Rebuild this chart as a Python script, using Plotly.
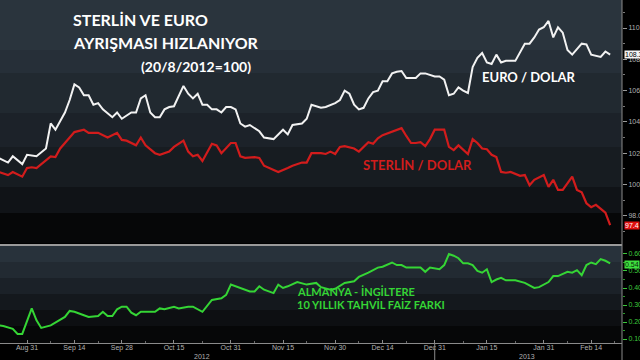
import plotly.graph_objects as go
import pandas as pd

# ---------------- data ----------------
start_day = "2012-08-23"   # trading-day index 0
n_days = 132

eur_idx = [0, 2, 3, 5, 6, 8, 10, 11, 12, 13, 14, 15, 16, 17, 18, 19, 20, 21, 22, 24, 25, 26, 28, 29, 30, 31, 32, 33, 34,
           35, 36, 37, 39, 40, 41, 42, 43, 44, 45, 46, 47, 48, 49, 50, 51, 52, 53, 55, 56, 58, 60, 61, 62, 64, 65, 66,
           67, 68, 69, 71, 72, 73, 74, 75, 76, 77, 78, 79, 80, 81, 82, 83, 84, 85, 86, 88, 89, 90, 92, 93, 94, 95, 96,
           97, 98, 99, 100, 101, 102, 103, 104, 105, 106, 107, 109, 111, 112, 113, 114, 115, 116, 117, 118, 119, 120,
           121, 123, 124, 125, 127, 128, 129]
eur_vals = [101.7, 101.4, 101.8, 101.3, 101.9, 101.8, 102.3, 103.9, 103.5, 104.1, 104.6, 105.4, 106.4, 106.2, 105.7,
            105.7, 105.1, 105.2, 104.8, 104.3, 104.6, 104.2, 104.6, 104.6, 105.5, 105.7, 104.6, 104.3, 104.3,
            104.8, 104.95, 105.0, 106.3, 105.8, 105.5, 105.8, 105.1, 105.1, 104.8, 104.8, 104.6, 104.95, 104.95, 104.8,
            103.9, 103.7, 103.8, 103.4, 103.0, 102.9, 103.5, 103.2, 103.8, 103.9, 104.2, 105.1,
            105.0, 104.9, 104.95, 105.2, 105.4, 106.0, 105.8, 105.1, 104.8, 104.9, 105.5, 105.9, 106.0, 106.6, 106.6,
            107.1, 107.2, 107.25, 106.8, 106.8, 107.1, 107.1, 106.9, 106.9, 106.7, 105.7, 105.8,
            106.2, 106.0, 105.85, 107.5, 108.1, 108.4, 107.8, 107.7, 108.3, 107.8, 107.9, 107.9, 109.0, 109.0, 109.4,
            109.9, 110.05, 110.45, 109.4, 110.05, 109.7, 108.6,
            108.3, 109.0, 108.95, 108.3, 108.15, 108.5, 108.3]

gbp_idx = [0, 2, 3, 5, 6, 7, 8, 9, 11, 12, 13, 14, 16, 18, 19, 21, 23, 25, 26, 27, 29, 30, 31, 33, 34, 36, 37, 39, 40,
           41, 42, 43, 45, 46, 47, 49, 50, 51, 52, 54, 55, 56, 57, 59, 61, 62, 64, 65, 66, 68, 69, 70, 71, 72, 73, 75,
           76, 77, 78, 79, 80, 81, 83, 84, 85, 86, 87, 88, 89, 90, 91, 92, 94, 95, 96, 97, 98, 99, 100, 101, 102, 103,
           104, 105, 106, 107, 108, 110, 111, 112, 113, 115, 116, 117, 118, 119, 121, 122, 123, 124, 125, 126, 128, 129]
gbp_vals = [100.8, 100.6, 100.8, 100.5, 101.05, 101.1, 101.05, 101.3, 101.8, 101.75, 102.3, 102.65, 103.35, 103.5,
            103.3, 103.3, 103.0, 103.3, 102.85, 102.8, 102.5, 103.0, 102.5, 102.0, 101.9, 102.1, 102.4, 102.8, 102.1,
            101.8, 101.9, 101.5, 102.6, 102.5, 102.0, 102.65, 102.65, 101.8, 101.7, 101.75, 101.7, 101.2, 101.05, 100.8,
            101.05, 101.2, 101.4, 101.4, 102.0, 102.0, 101.95, 102.1, 101.95, 102.4, 102.45, 102.3,
            102.1, 102.4, 102.7, 102.6, 102.95, 103.15, 103.4, 103.5, 103.6, 103.1, 102.65, 102.65, 102.7, 102.45, 102.9,
            103.5, 103.5, 102.4, 102.2, 102.5, 102.2, 101.95, 102.9, 102.65, 102.3, 102.25,
            101.9, 101.75, 100.8, 100.75, 100.8, 100.55, 100.6, 99.95, 100.3, 100.6, 99.85, 100.3, 99.65, 99.65, 100.5,
            99.65, 99.5, 98.8, 98.55, 98.7, 98.2, 97.4]

spr_idx = [0, 1, 3, 4, 5, 7, 8, 9, 11, 13, 14, 15, 16, 18, 19, 21, 22, 23, 24, 25, 26, 27, 28, 29, 30, 31, 33, 34, 35,
           37, 38, 40, 41, 43, 45, 47, 48, 49, 51, 53, 54, 55, 56, 58, 59, 60, 61, 63, 65, 67, 68, 70, 71, 73, 75, 76,
           78, 80, 81, 83, 84, 85, 86, 87, 89, 90, 91, 93, 94, 95, 96, 97, 98, 99, 100, 101, 102, 103, 104, 105, 106,
           107, 109, 111, 113, 114, 115, 116, 117, 118, 120, 121, 122, 123, 124, 125, 126, 127, 128, 129]
spr_vals = [0.18, 0.176, 0.16, 0.13, 0.13, 0.28, 0.21, 0.165, 0.18, 0.21, 0.23, 0.265, 0.26, 0.24, 0.23, 0.235, 0.26,
            0.235, 0.235, 0.275, 0.29, 0.29, 0.255, 0.24, 0.26, 0.26, 0.26, 0.28, 0.275,
            0.29, 0.28, 0.29, 0.29, 0.26, 0.33, 0.34, 0.36, 0.42, 0.40, 0.38, 0.38, 0.41, 0.39, 0.37, 0.42, 0.40, 0.41,
            0.435, 0.42, 0.43, 0.405, 0.39, 0.395, 0.43, 0.44, 0.465,
            0.49, 0.52, 0.525, 0.55, 0.535, 0.535, 0.52, 0.52, 0.52, 0.495, 0.52, 0.51, 0.535, 0.60, 0.59, 0.575, 0.545,
            0.545, 0.535, 0.50, 0.49, 0.51, 0.435, 0.45, 0.46,
            0.445, 0.445, 0.43, 0.40, 0.405, 0.42, 0.435, 0.47, 0.47, 0.495, 0.49, 0.505, 0.475, 0.535, 0.55, 0.54,
            0.57, 0.56, 0.545]

x_tick_dates = ["2012-08-31", "2012-09-14", "2012-09-28", "2012-10-15", "2012-10-31", "2012-11-15",
                "2012-11-30", "2012-12-14", "2012-12-31", "2013-01-15", "2013-01-31", "2013-02-14"]
x_tick_labels = ["Aug 31", "Sep 14", "Sep 28", "Oct 15", "Oct 31", "Nov 15",
                 "Nov 30", "Dec 14", "Dec 31", "Jan 15", "Jan 31", "Feb 14"]
x_minor_dates = ["2012-09-07", "2012-09-21", "2012-10-05", "2012-10-23", "2012-11-07", "2012-11-22",
                 "2012-12-07", "2012-12-21", "2013-01-08", "2013-01-23", "2013-02-07", "2013-02-21"]
top_ticks = [98, 100, 102, 104, 106, 108, 110]
top_labels = ["98.00", "100.00", "102.00", "104.00", "106.00", "108.00", "110.00"]
top_minor = [97, 99, 101, 103, 105, 107, 109, 111]
bot_ticks = [0.1, 0.2, 0.3, 0.4, 0.5, 0.6]
bot_labels = ["0.100", "0.200", "0.300", "0.400", "0.500", "0.600"]
bot_minor = [0.15, 0.25, 0.35, 0.45, 0.55]

last_eur = "108.3"
last_gbp = "97.4"
last_spr = "0.54"

# ---------------- figure ----------------
bd = pd.bdate_range(start_day, periods=n_days)
def dates(idx):
    return [bd[i] for i in idx]

WHITE = "#f2f2f2"
RED = "#d21c1c"
GREEN = "#35d535"
SMALL = "Liberation Sans"

fig = go.Figure()
fig.add_trace(go.Scatter(x=dates(eur_idx), y=eur_vals, mode="lines", line=dict(color=WHITE, width=2),
                         xaxis="x", yaxis="y", hoverinfo="skip"))
fig.add_trace(go.Scatter(x=dates(gbp_idx), y=gbp_vals, mode="lines", line=dict(color=RED, width=2.2),
                         xaxis="x", yaxis="y", hoverinfo="skip"))
fig.add_trace(go.Scatter(x=dates(spr_idx), y=spr_vals, mode="lines", line=dict(color=GREEN, width=2),
                         xaxis="x2", yaxis="y2", hoverinfo="skip"))

H = 343.0  # plot-area height in px
top_dom = [(H - 243) / H, 1.0]
bot_dom = [0.0, (H - 246) / H]
xrange = ["2012-08-23 07:18", "2013-02-22 12:00"]
rb = [dict(bounds=["sat", "mon"])]

shapes = []
top_bands = [(0, 50, "#2a343d"), (50, 73, "#262f38"), (73, 113, "#212930"), (113, 147, "#1c2229"),
             (147, 187, "#171c21"), (187, 213, "#101317"), (213, 243, "#060708")]
for y0, y1, c in top_bands:
    shapes.append(dict(type="rect", xref="x domain", yref="y domain", x0=0, x1=1,
                       y0=1 - y1 / 243, y1=1 - y0 / 243, fillcolor=c, line_width=0, layer="below"))
bot_bands = [(246, 262, "#28323b"), (262, 278, "#222a32"), (278, 294, "#1b2128"), (294, 310, "#14181d"),
             (310, 326, "#0d0f12"), (326, 343, "#060708")]
for y0, y1, c in bot_bands:
    shapes.append(dict(type="rect", xref="x2 domain", yref="y2 domain", x0=0, x1=1,
                       y0=1 - (y1 - 246) / 97, y1=1 - (y0 - 246) / 97, fillcolor=c, line_width=0, layer="below"))
shapes.append(dict(type="line", xref="paper", yref="paper", x0=0, x1=1,
                   y0=(H - 245) / H, y1=(H - 245) / H, line=dict(color="#9a9a9a", width=2)))
shapes.append(dict(type="line", xref="paper", yref="paper", x0=1, x1=1, y0=-0.05, y1=1,
                   line=dict(color="#8a8a8a", width=1)))
shapes.append(dict(type="line", xref="x2", yref="paper", x0="2012-12-31", x1="2012-12-31",
                   y0=-0.06, y1=0, line=dict(color="#8a8a8a", width=1)))

ann = []
def txt(s, x, y, size, color, anchor="left"):
    ann.append(dict(text=s, xref="paper", yref="paper", x=x / 622.0, y=(H - y) / H, xanchor=anchor,
                    yanchor="middle", showarrow=False, font=dict(family="Lato", size=size, color=color)))
txt("<b>STERLİN VE EURO</b>", 71, 20, 16, "#ffffff")
txt("<b>AYRIŞMASI HIZLANIYOR</b>", 71, 42, 16, "#ffffff")
txt("<b>(20/8/2012=100)</b>", 139, 66, 14, "#ffffff")
txt("<b>EURO / DOLAR</b>", 480, 77, 13, "#ffffff")
txt("<b>STERLİN / DOLAR</b>", 361, 165, 13, RED)
txt("<b>ALMANYA - İNGİLTERE</b>", 295, 291, 11, GREEN)
txt("<b>10 YILLIK TAHVİL FAİZ FARKI</b>", 295, 304, 11, GREEN)
for s, xp in (("2012", 202), ("2013", 527)):
    ann.append(dict(text=s, xref="paper", yref="paper", x=xp / 622.0, y=(H - 356) / H, xanchor="center",
                    yanchor="middle", showarrow=False, font=dict(family=SMALL, size=7, color="#b0b0b0")))
def tag(s, yv, yref, bg, fg):
    ann.append(dict(text=s, xref="paper", yref=yref, x=1.0, y=yv, xanchor="left", xshift=2, yanchor="middle",
                    showarrow=False, bgcolor=bg, borderpad=0,
                    font=dict(family=SMALL, size=7, color=fg)))
tag(last_eur, float(last_eur), "y", "#f4f4f4", "#000000")
tag(last_gbp, float(last_gbp), "y", "#e01010", "#ffffff")
tag(last_spr, float(last_spr), "y2", "#3ee03e", "#0a2a0a")

axfont = dict(family=SMALL, size=7, color="#b0b0b0")
fig.update_layout(
    template="none",
    width=640, height=360,
    margin=dict(l=0, r=18, t=0, b=17, autoexpand=False),
    paper_bgcolor="#000000", plot_bgcolor="#000000",
    showlegend=False,
    xaxis=dict(domain=[0, 1], anchor="y", range=xrange, rangebreaks=rb, type="date",
               showticklabels=False, showgrid=False, zeroline=False, showline=False, ticks=""),
    xaxis2=dict(domain=[0, 1], anchor="y2", range=xrange, rangebreaks=rb, type="date", matches="x",
                tickmode="array", tickvals=x_tick_dates, ticktext=x_tick_labels, tickfont=axfont,
                showgrid=False, zeroline=False, showline=True, linecolor="#8a8a8a", linewidth=1,
                ticks="inside", ticklen=3, tickcolor="#8a8a8a", ticklabeloverflow="allow",
                ticklabelstandoff=-2,
                minor=dict(tickmode="array", tickvals=x_minor_dates, ticks="inside", ticklen=2,
                           tickcolor="#6a6a6a")),
    yaxis=dict(domain=top_dom, anchor="x", side="right", range=[96.26, 111.79], tickmode="array",
               tickvals=top_ticks, ticktext=top_labels, tickfont=axfont, showgrid=False, zeroline=False,
               showline=False, ticks="outside", ticklen=4, tickcolor="#9a9a9a", ticklabeloverflow="allow",
               minor=dict(tickmode="array", tickvals=top_minor, ticks="outside", ticklen=2,
                          tickcolor="#7a7a7a")),
    yaxis2=dict(domain=bot_dom, anchor="x2", side="right", range=[0.0765, 0.647], tickmode="array",
                tickvals=bot_ticks, ticktext=bot_labels,
                tickfont=dict(family=SMALL, size=7, color="#3cc83c"),
                showgrid=False, zeroline=False, showline=False, ticks="outside", ticklen=4,
                tickcolor="#3cc83c", ticklabeloverflow="allow",
                minor=dict(tickmode="array", tickvals=bot_minor, ticks="outside", ticklen=2,
                           tickcolor="#2a9a2a")),
    shapes=shapes,
    annotations=ann,
)

fig.write_html("out.html", config={"displayModeBar": False},
               post_script="document.body.style.margin='0px';document.body.style.background='#000';")
